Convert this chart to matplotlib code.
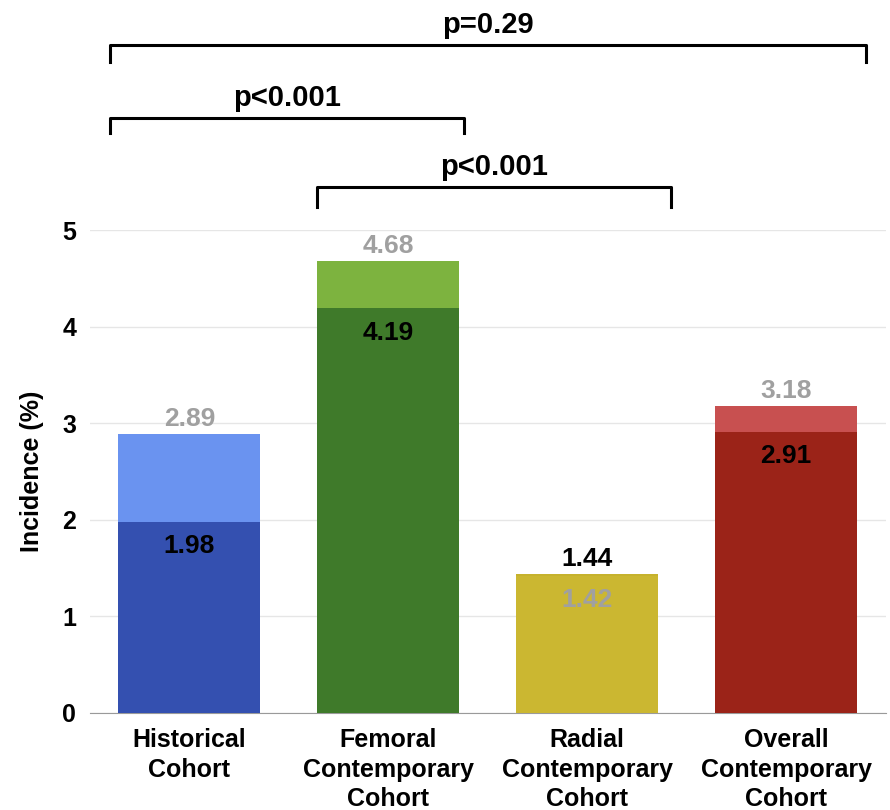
import matplotlib
matplotlib.use("Agg")
import matplotlib.pyplot as plt

categories = ["Historical\nCohort", "Femoral\nContemporary\nCohort",
              "Radial\nContemporary\nCohort", "Overall\nContemporary\nCohort"]
series_a = [1.98, 4.19, 1.44, 2.91]   # black labels
series_b = [2.89, 4.68, 1.42, 3.18]   # gray labels
colors_a = ["#3450B0", "#3F7A2A", "#C6B22D", "#9B2318"]
colors_b = ["#6A93F0", "#7DB33F", "#CBB731", "#C85050"]
yticks = [0, 1, 2, 3, 4, 5]
brackets = [(-0.40, 3.40, "p=0.29"), (-0.40, 1.38, "p<0.001"), (0.64, 2.42, "p<0.001")]
bracket_y = [6.92, 6.16, 5.45]
bracket_drop = [0.18, 0.16, 0.21]

plt.rcParams['font.family'] = ['Liberation Sans', 'DejaVu Sans']
fig = plt.figure(figsize=(8.9, 8.1), dpi=100)
ax = fig.add_axes([0.101, 0.1198, 0.894, 0.5962])
x = list(range(len(categories)))
w = 0.715
VF = 19
for i in x:
    a, b = series_a[i], series_b[i]
    if b >= a:
        ax.bar(i, b, w, color=colors_b[i], zorder=2)
        ax.bar(i, a, w, color=colors_a[i], zorder=3)
        ax.annotate(f"{b:.2f}", (i, b), xytext=(0, 2), textcoords="offset points",
                    ha="center", va="bottom", color="#A0A0A0", fontsize=VF, fontweight="bold")
        ax.annotate(f"{a:.2f}", (i, a), xytext=(0, -9), textcoords="offset points",
                    ha="center", va="top", color="black", fontsize=VF, fontweight="bold")
    else:
        ax.bar(i, a, w, color=colors_a[i], zorder=2)
        ax.bar(i, b, w, color=colors_b[i], zorder=3)
        ax.annotate(f"{a:.2f}", (i, a), xytext=(0, 2), textcoords="offset points",
                    ha="center", va="bottom", color="black", fontsize=VF, fontweight="bold")
        ax.annotate(f"{b:.2f}", (i, b), xytext=(0, -9), textcoords="offset points",
                    ha="center", va="top", color="#A0A0A0", fontsize=VF, fontweight="bold")

ax.set_xlim(-0.5, 3.5)
ax.set_ylim(0, 5)
ax.set_yticks(yticks)
ax.set_yticklabels([str(t) for t in yticks], fontsize=18, fontweight="bold")
ax.set_xticks(x)
ax.set_xticklabels(categories, fontsize=18, fontweight="bold", linespacing=1.28)
ax.tick_params(axis="both", length=0)
ax.tick_params(axis="x", pad=11)
ax.tick_params(axis="y", pad=10)
for s in ["top", "right", "left"]:
    ax.spines[s].set_visible(False)
ax.spines["bottom"].set_color("#9A9A9A")
ax.yaxis.grid(True, color="#E6E6E6", linewidth=1, zorder=0)
ax.set_axisbelow(True)
ax.set_ylabel("Incidence (%)", fontsize=18, fontweight="bold", labelpad=13)

for (x0, x1, txt), yb, d in zip(brackets, bracket_y, bracket_drop):
    ax.plot([x0, x0, x1, x1], [yb - d, yb, yb, yb - d], color="black", lw=2.2,
            clip_on=False, solid_joinstyle="round")
    ax.text((x0 + x1) / 2, yb + 0.06, txt, ha="center", va="bottom",
            fontsize=21, fontweight="bold")

fig.savefig("out.png", dpi=100)
